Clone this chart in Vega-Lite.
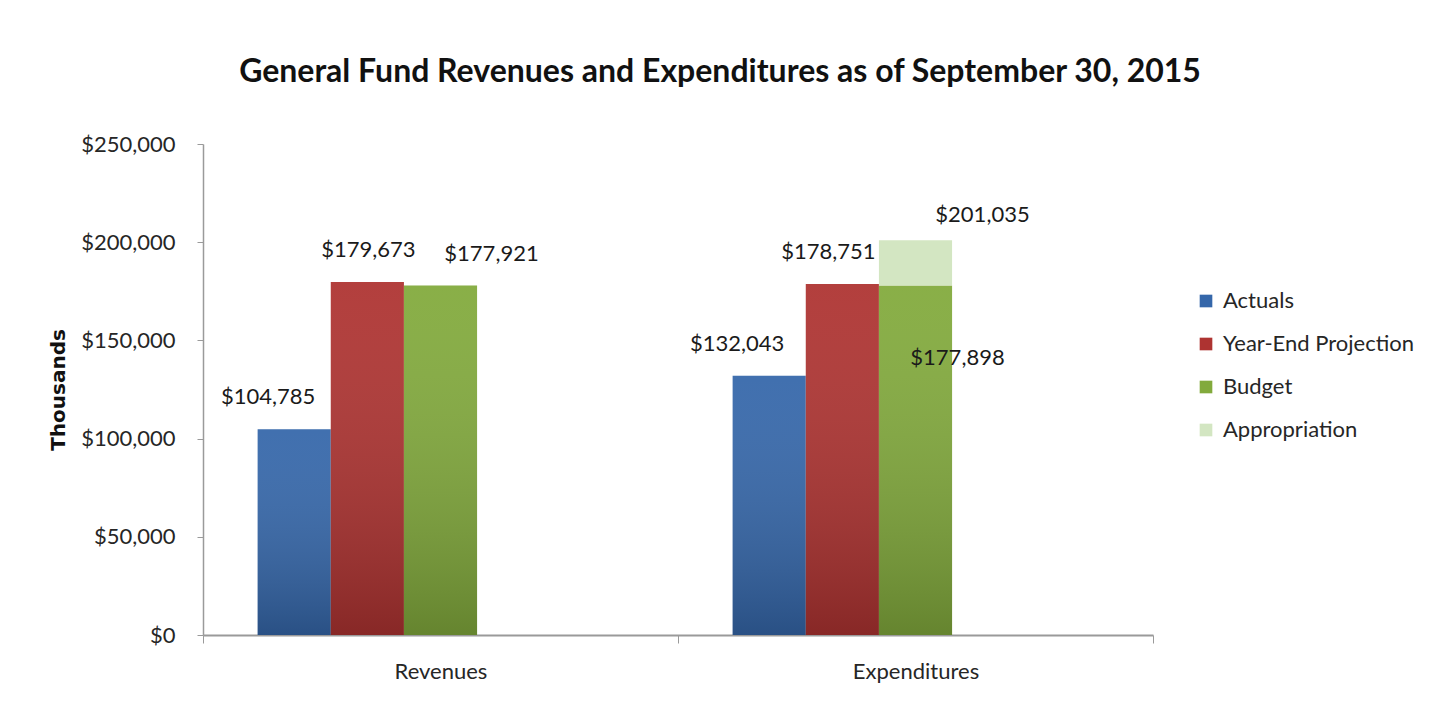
{
  "$schema": "https://vega.github.io/schema/vega-lite/v6.json",
  "autosize": {"type": "none"},
  "width": 950,
  "height": 491,
  "padding": {"left": 203, "top": 144, "right": 294, "bottom": 84},
  "background": "white",
  "config": {"view": {"stroke": null}},
  "title": {
    "text": "General Fund Revenues and Expenditures as of September 30, 2015",
    "font": "Lato",
    "fontSize": 32,
    "fontWeight": "bold",
    "color": "#111111",
    "anchor": "middle",
    "dx": 42,
    "offset": 44
  },
  "data": {
    "values": [
      {"category": "Revenues", "series": "Actuals", "slot": "Actuals", "value": 104785, "base": 0},
      {"category": "Revenues", "series": "Year-End Projection", "slot": "Year-End Projection", "value": 179673, "base": 0},
      {"category": "Revenues", "series": "Budget", "slot": "Budget", "value": 177921, "base": 0},
      {"category": "Expenditures", "series": "Actuals", "slot": "Actuals", "value": 132043, "base": 0},
      {"category": "Expenditures", "series": "Year-End Projection", "slot": "Year-End Projection", "value": 178751, "base": 0},
      {"category": "Expenditures", "series": "Budget", "slot": "Budget", "value": 177898, "base": 0},
      {"category": "Expenditures", "series": "Appropriation", "slot": "Budget", "value": 201035, "base": 177898}
    ]
  },
  "encoding": {
    "x": {
      "field": "category",
      "type": "nominal",
      "sort": ["Revenues", "Expenditures"],
      "scale": {"paddingInner": 0, "paddingOuter": 0},
      "axis": {
        "title": null,
        "labelAngle": 0,
        "labelFont": "Lato",
        "labelFontSize": 22,
        "labelColor": "#262626",
        "labelPadding": 18,
        "tickBand": "extent",
        "tickSize": 8,
        "tickColor": "#9a9a9a",
        "domainColor": "#9a9a9a",
        "domainWidth": 2
      }
    },
    "xOffset": {
      "field": "slot",
      "type": "nominal",
      "scale": {"domain": ["Actuals", "Year-End Projection", "Budget", "e1", "e2"], "paddingInner": 0, "paddingOuter": 0.747}
    }
  },
  "layer": [
    {
      "mark": {"type": "bar"},
      "encoding": {
        "y": {
          "field": "value",
          "type": "quantitative",
          "scale": {"domain": [0, 250000], "nice": false},
          "axis": {
            "title": "Thousands",
            "titleFont": "DejaVu Sans",
            "titleFontSize": 20,
            "titleFontWeight": "bold",
            "titleColor": "#111111",
            "titlePadding": 12,
            "values": [0, 50000, 100000, 150000, 200000, 250000],
            "format": "$,.0f",
            "labelFont": "Lato",
            "labelFontSize": 22,
            "labelColor": "#262626",
            "labelPadding": 22,
            "grid": false,
            "tickSize": 6,
            "tickColor": "#9a9a9a",
            "domainColor": "#9a9a9a",
            "domainWidth": 1.5
          }
        },
        "y2": {"field": "base"},
        "color": {
          "field": "series",
          "type": "nominal",
          "scale": {
            "domain": ["Actuals", "Year-End Projection", "Budget", "Appropriation"],
            "range": ["#3567aa", "#ae3331", "#82aa3c", "#d3e6c2"]
          },
          "legend": {
            "title": null,
            "orient": "none",
            "legendX": 992,
            "legendY": 146,
            "padding": 0,
            "symbolType": "square",
            "symbolSize": 160,
            "symbolStrokeWidth": 0,
            "labelFont": "Lato",
            "labelFontSize": 22,
            "labelColor": "#262626",
            "labelOffset": 6,
            "labelLimit": 0,
            "rowPadding": 21
          }
        }
      }
    },
    {
      "transform": [{"filter": "datum.series != 'Appropriation'"}],
      "mark": {
        "type": "bar",
        "color": {
          "gradient": "linear",
          "x1": 0, "y1": 0, "x2": 0, "y2": 1,
          "stops": [
            {"offset": 0, "color": "rgba(255,255,255,0.06)"},
            {"offset": 1, "color": "rgba(0,0,0,0.22)"}
          ]
        }
      },
      "encoding": {
        "y": {"field": "value", "type": "quantitative"},
        "y2": {"field": "base"}
      }
    },
    {
      "transform": [{"filter": "datum.category == 'Revenues' && datum.series == 'Actuals'"}],
      "mark": {"type": "text", "font": "Lato", "fontSize": 22, "color": "#1a1a1a", "baseline": "middle", "dx": -26, "dy": -32},
      "encoding": {"y": {"field": "value", "type": "quantitative"}, "text": {"field": "value", "type": "quantitative", "format": "$,.0f"}}
    },
    {
      "transform": [{"filter": "datum.category == 'Revenues' && datum.series == 'Year-End Projection'"}],
      "mark": {"type": "text", "font": "Lato", "fontSize": 22, "color": "#1a1a1a", "baseline": "middle", "dx": 1, "dy": -32},
      "encoding": {"y": {"field": "value", "type": "quantitative"}, "text": {"field": "value", "type": "quantitative", "format": "$,.0f"}}
    },
    {
      "transform": [{"filter": "datum.category == 'Revenues' && datum.series == 'Budget'"}],
      "mark": {"type": "text", "font": "Lato", "fontSize": 22, "color": "#1a1a1a", "baseline": "middle", "dx": 51, "dy": -32},
      "encoding": {"y": {"field": "value", "type": "quantitative"}, "text": {"field": "value", "type": "quantitative", "format": "$,.0f"}}
    },
    {
      "transform": [{"filter": "datum.category == 'Expenditures' && datum.series == 'Actuals'"}],
      "mark": {"type": "text", "font": "Lato", "fontSize": 22, "color": "#1a1a1a", "baseline": "middle", "dx": -32, "dy": -32},
      "encoding": {"y": {"field": "value", "type": "quantitative"}, "text": {"field": "value", "type": "quantitative", "format": "$,.0f"}}
    },
    {
      "transform": [{"filter": "datum.category == 'Expenditures' && datum.series == 'Year-End Projection'"}],
      "mark": {"type": "text", "font": "Lato", "fontSize": 22, "color": "#1a1a1a", "baseline": "middle", "dx": -14, "dy": -32},
      "encoding": {"y": {"field": "value", "type": "quantitative"}, "text": {"field": "value", "type": "quantitative", "format": "$,.0f"}}
    },
    {
      "transform": [{"filter": "datum.category == 'Expenditures' && datum.series == 'Appropriation'"}],
      "mark": {"type": "text", "font": "Lato", "fontSize": 22, "color": "#1a1a1a", "baseline": "middle", "dx": 67, "dy": -25},
      "encoding": {"y": {"field": "value", "type": "quantitative"}, "text": {"field": "value", "type": "quantitative", "format": "$,.0f"}}
    },
    {
      "transform": [{"filter": "datum.category == 'Expenditures' && datum.series == 'Budget'"}],
      "mark": {"type": "text", "font": "Lato", "fontSize": 22, "color": "#1a1a1a", "baseline": "middle", "dx": 42, "dy": 72},
      "encoding": {"y": {"field": "value", "type": "quantitative"}, "text": {"field": "value", "type": "quantitative", "format": "$,.0f"}}
    }
  ]
}
